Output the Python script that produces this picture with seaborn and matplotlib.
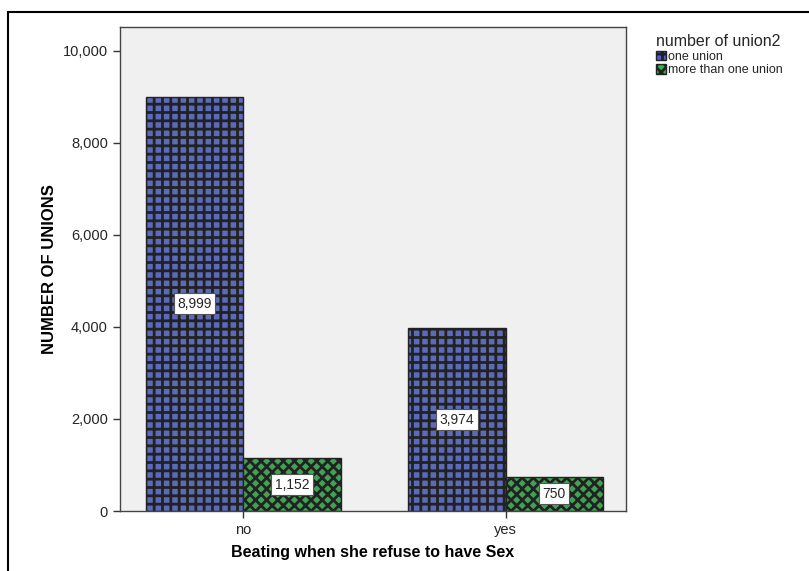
import numpy as np
import pandas as pd
import seaborn as sns
import matplotlib.pyplot as plt
from matplotlib.lines import Line2D
from matplotlib.ticker import FuncFormatter
from matplotlib.patches import Patch

sns.set_theme(style="white")
plt.rcParams['font.family'] = ['Liberation Sans', 'DejaVu Sans']
plt.rcParams['hatch.color'] = 'black'
plt.rcParams['hatch.linewidth'] = 2.0

beating = ["no", "no", "yes", "yes"]
unions = ["one union", "more than one union", "one union", "more than one union"]
counts = [8999, 1152, 3974, 750]

df = pd.DataFrame({"beating": beating, "union": unions, "count": counts})
colors = {"one union": "#4c5fcc", "more than one union": "#2fb34a"}
hatches = {"one union": "++", "more than one union": "xxx"}

fig = plt.figure(figsize=(8.09, 5.71), dpi=100)
ax = fig.add_axes([0.148, 0.105, 0.626, 0.848])
ax.set_facecolor("#f0f0f0")

sns.barplot(data=df, x="beating", y="count", hue="union",
            hue_order=["one union", "more than one union"],
            palette=colors, width=0.743, gap=0, ax=ax,
            edgecolor="#222222", linewidth=1, legend=False)

order = ["one union", "more than one union"]
for i, cont in enumerate(ax.containers):
    for bar in cont:
        bar.set_hatch(hatches[order[i]])
    ax.bar_label(cont, labels=[f"{int(v):,}" for v in cont.datavalues],
                 label_type="center", fontsize=10,
                 bbox=dict(facecolor="white", edgecolor="#555555",
                           boxstyle="square,pad=0.25", linewidth=0.8))

ax.set_ylim(0, 10520)
ax.set_xlim(-0.471, 1.46)
ax.set_yticks([0, 2000, 4000, 6000, 8000, 10000])
ax.yaxis.set_major_formatter(FuncFormatter(lambda v, p: f"{int(v):,}"))
ax.tick_params(axis="both", which="both", length=5, width=1,
               color="#333333", labelsize=10.5, direction="out",
               left=True, bottom=True)
for s in ax.spines.values():
    s.set_color("#444444")
    s.set_linewidth(1)

ax.set_xlabel("Beating when she refuse to have Sex", fontsize=11.5,
              fontweight="bold", labelpad=6, color="black")
ax.set_ylabel("NUMBER OF UNIONS", fontsize=12, fontweight="bold",
              labelpad=4, color="black")

handles = [Patch(facecolor=colors[u], edgecolor="#222222",
                 hatch=hatches[u], label=u) for u in order]
leg = fig.legend(handles=handles, title="number of union2",
                 loc="upper left", bbox_to_anchor=(0.8, 0.955),
                 frameon=False, fontsize=9, title_fontsize=11.5,
                 handlelength=0.8, handleheight=0.8, handletextpad=0.2,
                 labelspacing=0.1, borderpad=0.2)
leg._legend_box.align = "left"

fig.add_artist(Line2D([8 / 809, 1], [1 - 12 / 571, 1 - 12 / 571],
                      color="black", linewidth=1.5))
fig.add_artist(Line2D([8 / 809, 8 / 809], [0, 1 - 12 / 571],
                      color="black", linewidth=1.5))

fig.savefig("out.png", dpi=100)
